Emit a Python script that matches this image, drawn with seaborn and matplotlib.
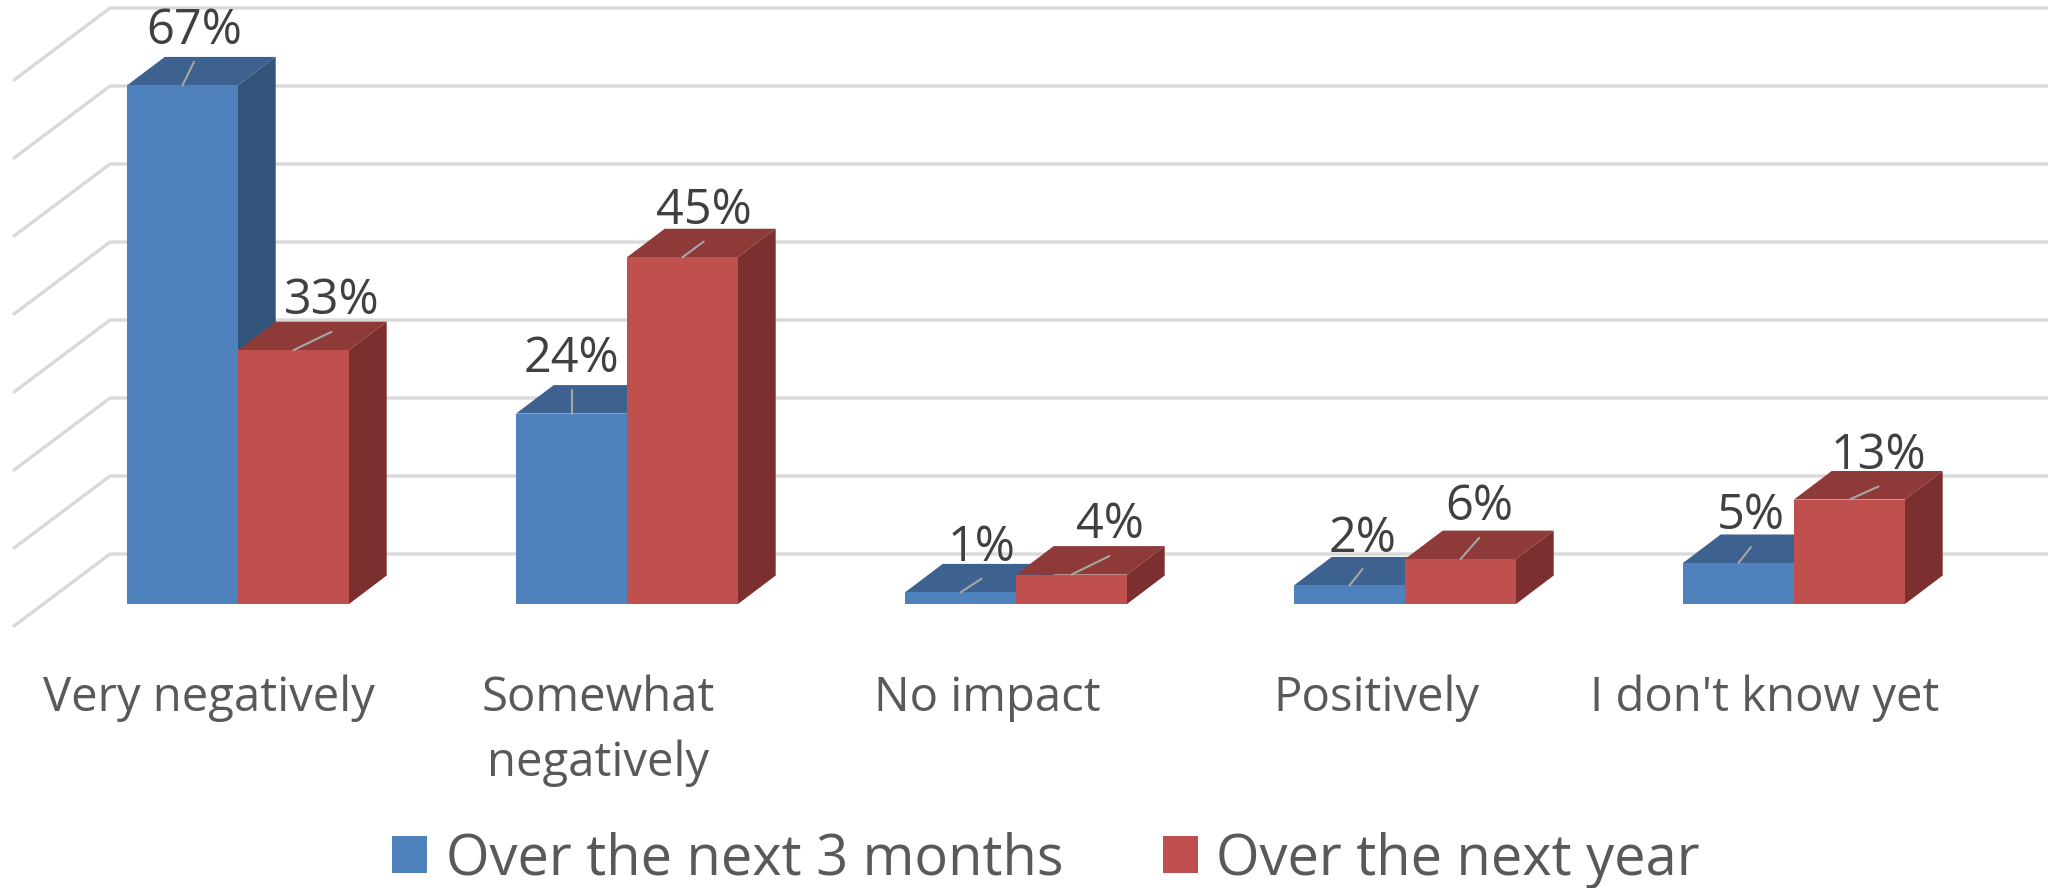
# Impact chart with pseudo-3D columns, seaborn draws the front faces
import matplotlib
matplotlib.use('Agg')
import pandas as pd
import seaborn as sns
import matplotlib.pyplot as plt
from matplotlib.patches import Polygon
from matplotlib.transforms import ScaledTranslation

# Data (bar heights as drawn, labels as printed)
categories = ['Very negatively', 'Somewhat\nnegatively', 'No impact', 'Positively', "I don't know yet"]
next_3_months = [67, 24.6, 1.5, 2.4, 5.3]
next_year = [32.8, 44.8, 3.8, 5.8, 13.5]
labels_3_months = ['67%', '24%', '1%', '2%', '5%']
labels_year = ['33%', '45%', '4%', '6%', '13%']
series_names = ['Over the next 3 months', 'Over the next year']
grid_ticks = [0, 10, 20, 30, 40, 50, 60, 70]

# End of each leader line, pixels away from the top centre of its bar
leader_3_months = [(11.5, -23.5), (0, -23.7), (21, -13.7), (13, -16.4), (12.5, -16)]
leader_year = [(38, -18.3), (21.3, -15.7), (38, -18.6), (18.7, -21.3), (29, -13)]

# Colours: front, top, side
blue = ['#4F81BD', '#3D628F', '#32537A']
red = ['#C0504D', '#8E3A38', '#7B2F2E']

# Geometry of the picture in pixels
W, H = 2048, 888
BASE_Y = 604        # bar front base
PX_PER_PCT = 7.74   # bar height per percent
CAT_X0 = 238        # centre of the first group
CAT_STEP = 389      # distance between groups
BAR_DX, BAR_DY = 37.7, 28.5   # depth of one bar
WALL_DY = 50        # back wall bottom above the bar base
WALL_X = 110        # left end of the back wall
FLOOR_DX, FLOOR_DY = 96, 72   # depth of the side wall
GRID_PX_PER_PCT = 7.8
LABEL_GAP = 17.5    # leader end to label baseline


def data_x(px):
    return (px - CAT_X0) / CAT_STEP


def data_y(py):
    return (BASE_Y - py) / PX_PER_PCT


df = pd.DataFrame({
    'Category': categories * 2,
    'Series': [series_names[0]] * 5 + [series_names[1]] * 5,
    'Value': next_3_months + next_year,
})

sns.set_theme(style='white')
plt.rcParams['font.family'] = ['Open Sans', 'DejaVu Sans']

fig = plt.figure(figsize=(W / 100, H / 100), dpi=100)
ax = fig.add_axes([0, (H - BASE_Y) / H, 1, BASE_Y / H])

sns.barplot(data=df, x='Category', y='Value', hue='Series', ax=ax,
            palette=[blue[0], red[0]], width=222 / CAT_STEP, gap=0,
            saturation=1, linewidth=0)

ax.set_xlim(data_x(0), data_x(W))
ax.set_ylim(0, data_y(0))
ax.set_xlabel('')
ax.set_ylabel('')
ax.set_yticks([])
sns.despine(ax=ax, left=True, bottom=True)

# Back wall and side wall grid lines
for tick in grid_ticks:
    back_y = BASE_Y - WALL_DY - tick * GRID_PX_PER_PCT
    ax.plot([data_x(WALL_X - FLOOR_DX), data_x(WALL_X), data_x(W)],
            [data_y(back_y + FLOOR_DY), data_y(back_y), data_y(back_y)],
            color='#D9D9D9', lw=2.4, clip_on=False, zorder=1,
            solid_joinstyle='round')

# Top and side faces for every bar, plus leader lines and labels
dx = BAR_DX / CAT_STEP
dy = BAR_DY / PX_PER_PCT
leaders = [leader_3_months, leader_year]
texts = [labels_3_months, labels_year]
for s, (container, cols) in enumerate(zip(ax.containers, [blue, red])):
    z = 3 + s * 2
    for i, bar in enumerate(container):
        x0 = bar.get_x()
        x1 = x0 + bar.get_width()
        top = bar.get_height()
        bar.set_zorder(z + 1)
        ax.add_patch(Polygon([(x0, top), (x1, top), (x1 + dx, top + dy), (x0 + dx, top + dy)],
                             closed=True, fc=cols[1], ec='none', zorder=z))
        ax.add_patch(Polygon([(x1, 0), (x1, top), (x1 + dx, top + dy), (x1 + dx, dy)],
                             closed=True, fc=cols[2], ec='none', zorder=z))
        cx = x0 + bar.get_width() / 2
        lx, ly = leaders[s][i]
        end_x = cx + lx / CAT_STEP
        end_y = top - ly / PX_PER_PCT
        ax.plot([cx, end_x], [top, end_y], color='#A6A6A6', lw=1.5, zorder=8)
        ax.text(end_x, end_y + LABEL_GAP / PX_PER_PCT, texts[s][i], ha='center', va='baseline',
                fontsize=35, color='#404040', zorder=9)

# Category labels sit a little left of the groups
ax.tick_params(axis='x', length=0, pad=51, labelsize=34, labelcolor='#595959')
shift = ScaledTranslation(-29 / 100, 0, fig.dpi_scale_trans)
for label in ax.get_xticklabels():
    label.set_transform(label.get_transform() + shift)
    label.set_linespacing(1.46)

# Legend
handles, labels = ax.get_legend_handles_labels()
ax.legend(handles, labels, ncol=2, frameon=False, fontsize=40.3,
          loc='center', bbox_to_anchor=(1046 / W, (H - 860) / H),
          bbox_transform=fig.transFigure, handlelength=0.63, handleheight=0.63,
          handletextpad=0.33, columnspacing=1.78, labelcolor='#595959',
          borderpad=0, borderaxespad=0)

fig.savefig('out.png', dpi=100)
